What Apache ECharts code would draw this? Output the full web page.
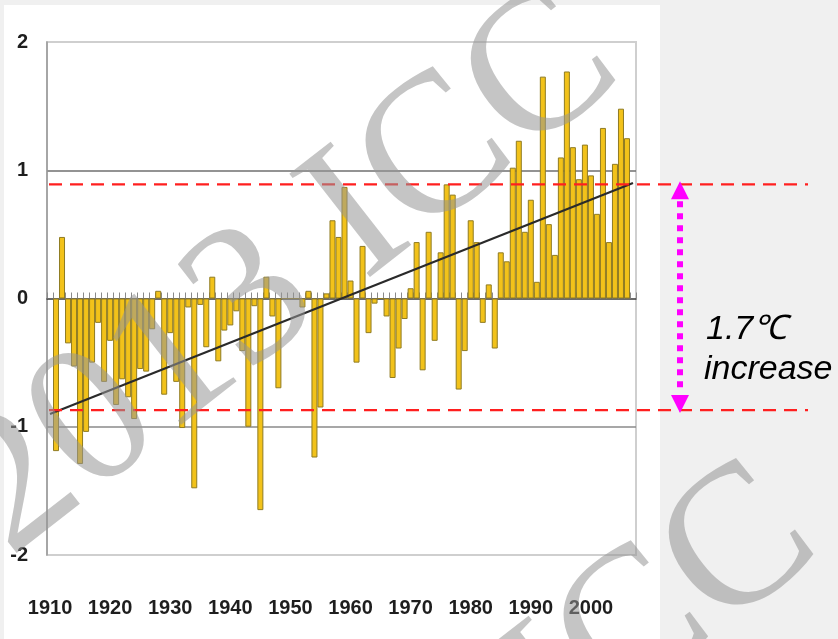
<!DOCTYPE html>
<html><head><meta charset="utf-8">
<script src="https://cdn.jsdelivr.net/npm/echarts@6/dist/echarts.min.js"></script>
<style>html,body{margin:0;padding:0;background:#f0f0f0;}#c{width:838px;height:639px;}</style>
</head><body><div id="c"></div>
<script>
// ---- data ----
const years = [1911,1912,1913,1914,1915,1916,1917,1918,1919,1920,
  1921,1922,1923,1924,1925,1926,1927,1928,1929,1930,
  1931,1932,1933,1934,1935,1936,1937,1938,1939,1940,
  1941,1942,1943,1944,1945,1946,1947,1948,1949,1950,
  1951,1952,1953,1954,1955,1956,1957,1958,1959,1960,
  1961,1962,1963,1964,1965,1966,1967,1968,1969,1970,
  1971,1972,1973,1974,1975,1976,1977,1978,1979,1980,
  1981,1982,1983,1984,1985,1986,1987,1988,1989,1990,
  1991,1992,1993,1994,1995,1996,1997,1998,1999,2000,
  2001,2002,2003,2004,2005,2006];
const anomalies = [-1.19,0.48,-0.35,-0.53,-1.29,-1.04,-0.50,-0.19,-0.65,-0.33,
  -0.83,-0.63,-0.77,-0.94,-0.55,-0.57,-0.24,0.06,-0.75,-0.27,
  -0.65,-1.01,-0.07,-1.48,-0.05,-0.38,0.17,-0.49,-0.25,-0.21,
  -0.10,-0.41,-1.00,-0.06,-1.65,0.17,-0.14,-0.70,0,0,
  0,-0.07,0.06,-1.24,-0.85,0.04,0.61,0.48,0.87,0.14,
  -0.50,0.41,-0.27,-0.04,0,-0.14,-0.62,-0.39,-0.16,0.08,
  0.44,-0.56,0.52,-0.33,0.36,0.89,0.81,-0.71,-0.41,0.61,
  0.44,-0.19,0.11,-0.39,0.36,0.29,1.02,1.23,0.52,0.77,
  0.13,1.73,0.58,0.34,1.10,1.77,1.18,0.93,1.20,0.96,
  0.66,1.33,0.44,1.05,1.48,1.25];
const decadeLabels = [1910,1920,1930,1940,1950,1960,1970,1980,1990,2000];
const yTickLabels = [-2,-1,0,1,2];
const trendYears = [1910, 2007];
const trendValues = [-0.90, 0.90];
const refLevels = [0.89, -0.87];
const annotationLines = ['1.7\u2103', 'increase'];
const watermarkText = '2013 ICC';

// ---- chart ----
const chart = echarts.init(document.getElementById('c'), null, {renderer: 'canvas'});
const xMin = years[0] - 1.5, xMax = years[years.length - 1] + 1.5;
const labelFont = {color: '#1e1e1e', fontSize: 20, fontWeight: 'bold', fontFamily: '"Liberation Sans Narrow","Liberation Sans",Arial,sans-serif'};

const option = {
  animation: false,
  backgroundColor: 'transparent',
  grid: [{left: 47, top: 42, width: 589, height: 513, show: true, borderColor: '#cfcfcf', borderWidth: 2, backgroundColor: 'transparent'}],
  xAxis: [
    {type: 'value', gridIndex: 0, min: xMin, max: xMax, interval: 1, position: 'bottom',
     axisLine: {onZero: true, lineStyle: {color: '#3a3a3a', width: 1.5}},
     axisTick: {show: true, inside: true, length: 6, lineStyle: {color: '#8a8a8a', width: 1}},
     axisLabel: {show: false}, splitLine: {show: false}},
    {type: 'value', gridIndex: 0, min: xMin, max: xMax, position: 'bottom',
     axisLine: {show: false, onZero: false}, axisTick: {show: false}, splitLine: {show: false},
     axisLabel: Object.assign({show: true, margin: 43, customValues: decadeLabels, formatter: v => String(v)}, labelFont)}
  ],
  yAxis: [{type: 'value', gridIndex: 0, min: -2, max: 2, interval: 1,
    axisLine: {show: true, lineStyle: {color: '#999', width: 1.5}},
    axisTick: {show: false},
    axisLabel: Object.assign({margin: 19, formatter: v => yTickLabels.indexOf(v) >= 0 ? String(v) : ''}, labelFont),
    splitLine: {show: true, lineStyle: {color: ['#cfcfcf', '#8a8a8a', 'transparent', '#6f6f6f', '#cfcfcf'], width: 1.5}}
  }],
  series: [
    {type: 'bar', xAxisIndex: 0, yAxisIndex: 0, barWidth: 6,
     data: years.map((y, i) => [y, anomalies[i]]),
     itemStyle: {color: '#F2C21A', borderColor: '#8f7b22', borderWidth: 1}, z: 2},
    {type: 'line', xAxisIndex: 0, yAxisIndex: 0, symbol: 'none',
     data: trendYears.map((y, i) => [y, trendValues[i]]),
     lineStyle: {color: '#2a2a2a', width: 2.2}, z: 4}
  ]
};
chart.setOption(option);

// ---- annotations positioned through the chart's own scales ----
const px = (x, y) => chart.convertToPixel({xAxisIndex: 0, yAxisIndex: 0}, [x, y]);
const left = px(xMin, 0)[0] + 2;
const yHigh = px(xMin, refLevels[0])[1];
const yLow = px(xMin, refLevels[1])[1];
const arrowX = 680;
const wmStyle = {text: watermarkText, fill: 'rgba(150,150,150,0.55)', font: '200px "Liberation Serif", "DejaVu Serif", serif', textAlign: 'center', textVerticalAlign: 'middle'};
const wmRot = 38 * Math.PI / 180;
const graphics = [
  {type: 'rect', z: -10, silent: true, shape: {x: 4, y: 5, width: 656, height: 634}, style: {fill: '#ffffff'}},
  {type: 'line', z: 20, shape: {x1: left, y1: yHigh, x2: 808, y2: yHigh}, style: {stroke: '#ff1f1f', lineWidth: 2.2, lineDash: [13, 8]}},
  {type: 'line', z: 20, shape: {x1: left, y1: yLow, x2: 808, y2: yLow}, style: {stroke: '#ff1f1f', lineWidth: 2.2, lineDash: [13, 8]}},
  {type: 'line', z: 21, shape: {x1: arrowX, y1: yHigh + 17, x2: arrowX, y2: yLow - 17}, style: {stroke: '#ff00ff', lineWidth: 6, lineDash: [6, 6]}},
  {type: 'polygon', z: 21, shape: {points: [[arrowX, yHigh - 3], [arrowX - 9, yHigh + 15], [arrowX + 9, yHigh + 15]]}, style: {fill: '#ff00ff'}},
  {type: 'polygon', z: 21, shape: {points: [[arrowX, yLow + 3], [arrowX - 9, yLow - 15], [arrowX + 9, yLow - 15]]}, style: {fill: '#ff00ff'}},
  {type: 'text', z: 21, x: 706, y: 313, style: {text: annotationLines[0], fill: '#000', font: 'italic 34px "Liberation Sans", Arial, sans-serif', textVerticalAlign: 'alphabetic', textBaseline: 'alphabetic'}},
  {type: 'text', z: 21, x: 704, y: 353, style: {text: annotationLines[1], fill: '#000', font: 'italic 34px "Liberation Sans", Arial, sans-serif', textVerticalAlign: 'alphabetic', textBaseline: 'alphabetic'}},
  {type: 'text', z: 30, silent: true, x: 286, y: 276, rotation: wmRot, style: wmStyle},
  {type: 'text', z: 30, silent: true, x: 484, y: 750, rotation: wmRot, style: wmStyle}
];
chart.setOption({graphic: graphics});
</script></body></html>
